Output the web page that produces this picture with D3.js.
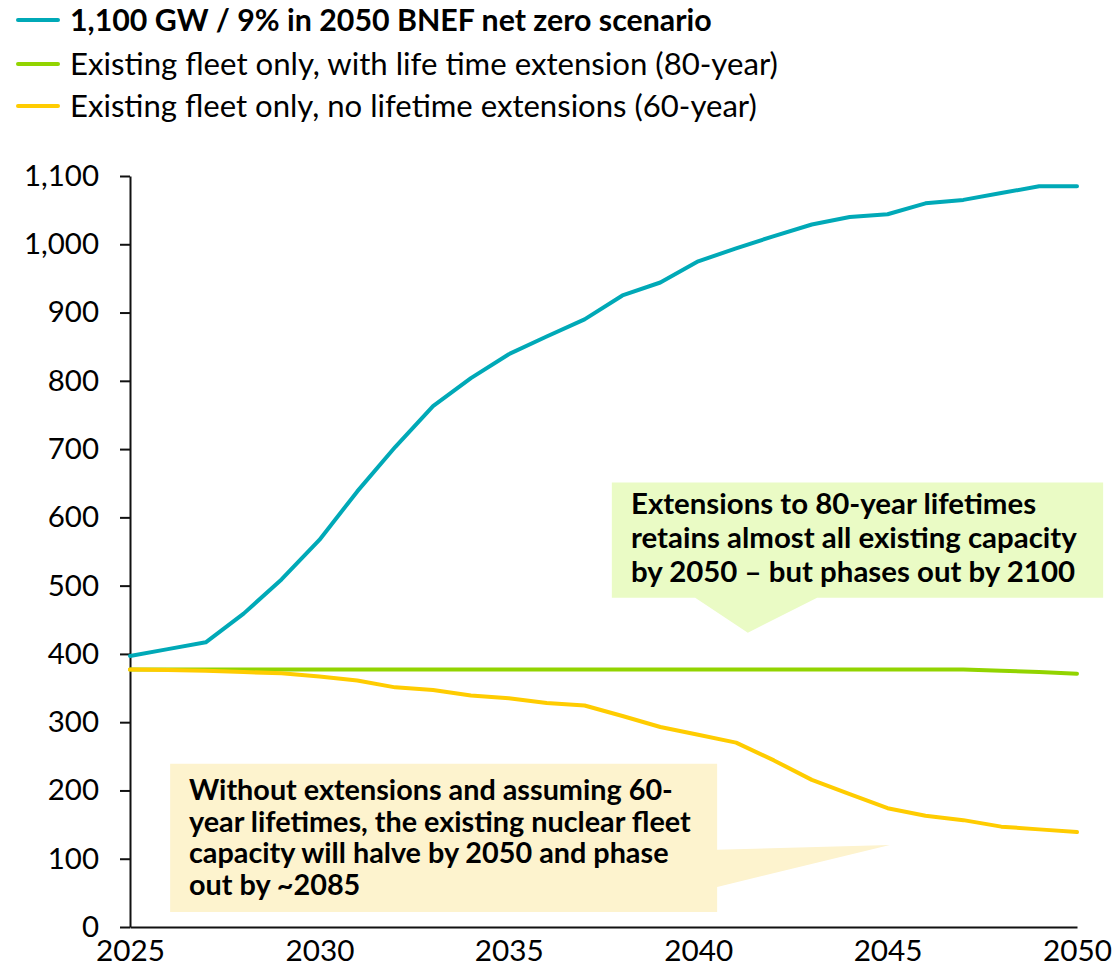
<!DOCTYPE html>
<html>
<head>
<meta charset="utf-8">
<script src="https://cdn.jsdelivr.net/npm/d3@7"></script>
<style>
  body { margin: 0; background: #fff; }
  svg text { font-family: Lato, "Noto Sans", sans-serif; fill: #000; }
</style>
</head>
<body>
<div id="chart"></div>
<script>
var years = [2025, 2026, 2027, 2028, 2029, 2030, 2031, 2032, 2033, 2034, 2035, 2036, 2037,
             2038, 2039, 2040, 2041, 2042, 2043, 2044, 2045, 2046, 2047, 2048, 2049, 2050];

// GW
var netZero = [397, 407, 417, 459, 509, 567, 638, 703, 763, 804, 839, 865, 890,
               925, 944, 975, 994, 1012, 1029, 1040, 1044, 1060, 1065, 1075, 1085, 1085];
var ext80   = [377, 377, 377, 377, 377, 377, 377, 377, 377, 377, 377, 377, 377,
               377, 377, 377, 377, 377, 377, 377, 377, 377, 377, 375.5, 373.5, 371];
var noExt60 = [377, 376.5, 375.5, 373.5, 371.5, 367, 361, 351, 347, 339, 335, 328, 324.5,
               309, 293, 281.5, 270, 244, 215.5, 194.5, 174, 163, 156.5, 147, 143, 139];

var seriesNames = ["1,100 GW / 9% in 2050 BNEF net zero scenario",
                   "Existing fleet only, with life time extension (80-year)",
                   "Existing fleet only, no lifetime extensions (60-year)"];
var yTicks = [0, 100, 200, 300, 400, 500, 600, 700, 800, 900, 1000, 1100];
var xTicks = [2025, 2030, 2035, 2040, 2045, 2050];

var greenNote = ["Extensions to 80-year lifetimes",
                 "retains almost all existing capacity",
                 "by 2050 \u2013 but phases out by 2100"];
var yellowNote = ["Without extensions and assuming 60-",
                  "year lifetimes, the existing nuclear fleet",
                  "capacity will halve by 2050 and phase",
                  "out by ~2085"];

var W = 1115, H = 968;
var colors = ["#00A9B7", "#92D400", "#FFCC00"];

var svg = d3.select("#chart").append("svg")
    .attr("width", W)
    .attr("height", H);

var x = d3.scaleLinear().domain([2025, 2050]).range([130, 1077]);
var y = d3.scaleLinear().domain([0, 1100]).range([927, 176]);

// scale a text node so its rendered width matches target
function fit(node, target) {
  var fs = parseFloat(node.getAttribute("font-size"));
  var w = node.getComputedTextLength();
  node.setAttribute("font-size", (fs * target / w).toFixed(2));
  return fs * target / w;
}

// annotation boxes (behind the lines)
var gBox = svg.append("g");
gBox.append("path")
  .attr("fill", "#EAFBC5")
  .attr("d", "M" + x(2037.72) + "," + y(651) +
             "H" + x(2050.69) + "V" + y(482.4) +
             "H" + x(2043.14) + "L" + x(2041.31) + "," + y(431) +
             "L" + x(2039.92) + "," + y(482.4) +
             "H" + x(2037.72) + "Z");
gBox.append("path")
  .attr("fill", "#FDF3CE")
  .attr("d", "M" + x(2026.06) + "," + y(239) +
             "H" + x(2040.5) + "V" + y(113) +
             "L" + x(2045.06) + "," + y(120) +
             "L" + x(2040.5) + "," + y(58.7) +
             "V" + y(22) + "H" + x(2026.06) + "Z");

// axes
var yAxis = svg.append("g")
  .attr("transform", "translate(130,0)")
  .call(d3.axisLeft(y).tickValues(yTicks).tickSize(10).tickSizeOuter(0)
          .tickPadding(21).tickFormat(d3.format(",")));
var xAxis = svg.append("g")
  .attr("transform", "translate(0,927)")
  .call(d3.axisBottom(x).tickValues(xTicks).tickSize(0).tickSizeOuter(0)
          .tickPadding(13).tickFormat(d3.format("d")));

svg.selectAll(".domain, .tick line").attr("stroke", "#111").attr("stroke-width", 2);
yAxis.selectAll("text").attr("font-size", 28).attr("fill", "#111");
xAxis.selectAll("text").attr("font-size", 28).attr("fill", "#111");
var ys = fit(yAxis.selectAll("text").filter(function(d) { return d === 1000; }).node(), 75);
yAxis.selectAll("text").attr("font-size", ys);
var xs = fit(xAxis.select("text").node(), 69);
xAxis.selectAll("text").attr("font-size", xs);

// lines
var line = d3.line()
  .x(function(d, i) { return x(years[i]); })
  .y(function(d) { return y(d); });

var drawOrder = [[ext80, 1], [noExt60, 2], [netZero, 0]];
drawOrder.forEach(function(s) {
  svg.append("path")
    .datum(s[0])
    .attr("fill", "none")
    .attr("stroke", colors[s[1]])
    .attr("stroke-width", 4)
    .attr("stroke-linejoin", "round")
    .attr("stroke-linecap", "round")
    .attr("d", line);
});

// legend
var legendY = [20, 64, 106];
var legendW = [642, 708, 687];
var leg = svg.append("g");
seriesNames.forEach(function(name, i) {
  leg.append("line")
    .attr("x1", 18).attr("x2", 58)
    .attr("y1", legendY[i]).attr("y2", legendY[i])
    .attr("stroke", colors[i]).attr("stroke-width", 4)
    .attr("stroke-linecap", "round");
  var t = leg.append("text")
    .attr("x", 70)
    .attr("y", legendY[i] + 10.5)
    .attr("font-size", 27)
    .attr("font-weight", i === 0 ? "bold" : "normal")
    .attr("fill", "#1a1a1a")
    .text(name);
  fit(t.node(), legendW[i]);
});

// annotation text
function note(lines, x0, y0, lh, longest, target) {
  var g = svg.append("g");
  var ts = lines.map(function(l, i) {
    return g.append("text")
      .attr("x", x0).attr("y", y0 + i * lh)
      .attr("font-size", 24)
      .attr("font-weight", "bold")
      .text(l);
  });
  var fs = fit(ts[longest].node(), target);
  ts.forEach(function(t) { t.attr("font-size", fs); });
}
note(greenNote, 631, 514, 34, 1, 446);
note(yellowNote, 189, 800, 31.7, 1, 502);
</script>
</body>
</html>
